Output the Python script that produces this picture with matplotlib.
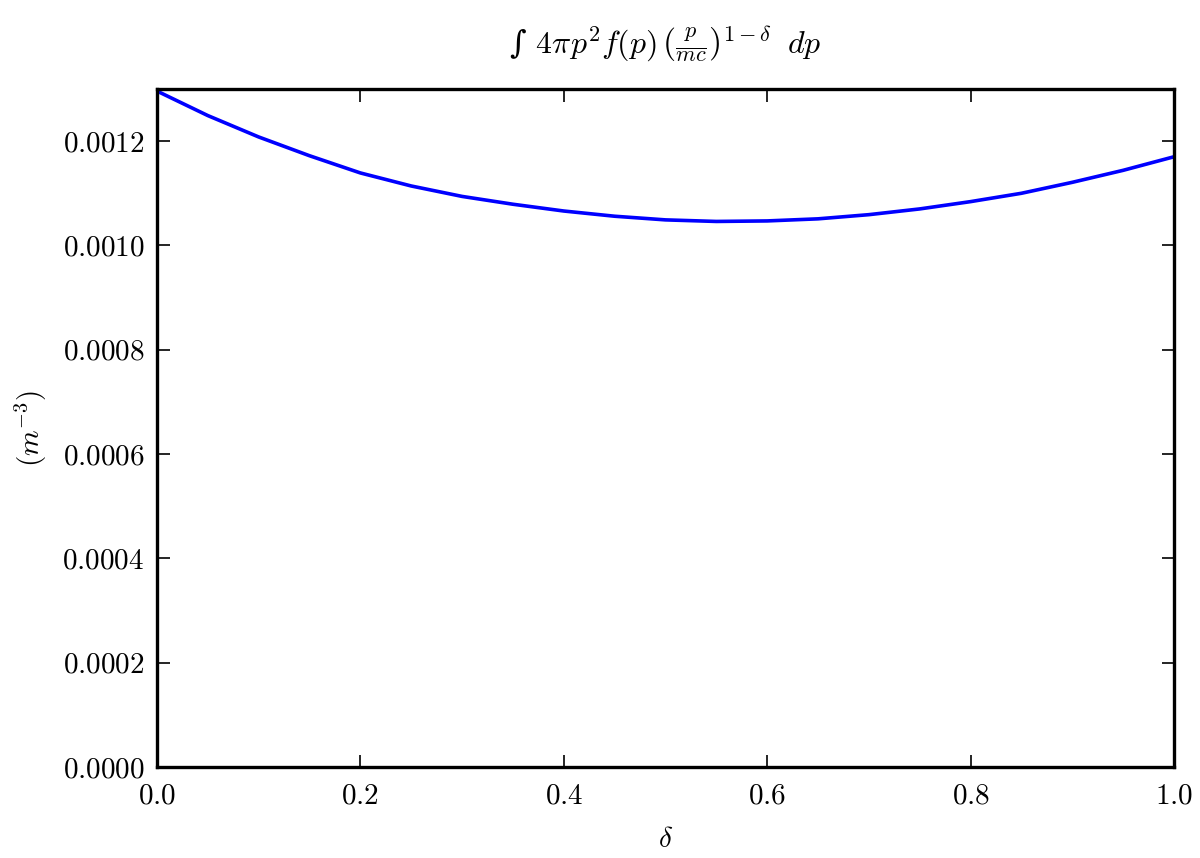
import matplotlib
matplotlib.use("Agg")
import matplotlib.pyplot as plt
from matplotlib.ticker import FuncFormatter, MultipleLocator

plt.rcParams['font.family'] = 'serif'
plt.rcParams['font.serif'] = ['cmr10', 'DejaVu Serif']
plt.rcParams['mathtext.fontset'] = 'cm'
plt.rcParams['axes.unicode_minus'] = False
plt.rcParams['axes.formatter.use_mathtext'] = True

delta = [0.0, 0.05, 0.1, 0.15, 0.2, 0.25, 0.3, 0.35, 0.4, 0.45, 0.5,
         0.55, 0.6, 0.65, 0.7, 0.75, 0.8, 0.85, 0.9, 0.95, 1.0]
density = [0.001296, 0.001249, 0.001208, 0.001172, 0.001139, 0.001114,
           0.001094, 0.001079, 0.001066, 0.001056, 0.001049, 0.001046,
           0.001047, 0.001051, 0.001059, 0.001070, 0.001084, 0.001100,
           0.001121, 0.001144, 0.001170]

fig = plt.figure(figsize=(12, 8.58), dpi=100)
ax = fig.add_axes([0.1308, 0.1061, 0.8475, 0.7902])
ax.plot(delta, density, color='#0000ff', lw=2.6, solid_joinstyle='round')
ax.set_xlim(0, 1)
ax.set_ylim(0, 0.0013)
ax.xaxis.set_major_locator(MultipleLocator(0.2))
ax.yaxis.set_major_locator(MultipleLocator(0.0002))
ax.xaxis.set_major_formatter(FuncFormatter(lambda v, p: f"${v:.1f}$"))
ax.yaxis.set_major_formatter(FuncFormatter(lambda v, p: f"${v:.4f}$"))
ax.tick_params(direction='in', length=9, width=1.2, top=True, right=True,
               labelsize=21)
ax.tick_params(axis='x', pad=12)
ax.tick_params(axis='y', pad=9)
for s in ax.spines.values():
    s.set_linewidth(2.4)
ax.set_xlabel(r'$\delta$', fontsize=21, labelpad=12)
ax.set_ylabel(r'$(m^{-3})$', fontsize=21, labelpad=10)
ax.set_title('\u222b ' + r'$4\pi p^2 f(p)\,\left(\frac{p}{mc}\right)^{1-\delta}\;\;dp$',
             fontsize=23, pad=26, family=['DejaVu Serif'])
fig.savefig('out.png', dpi=100)
